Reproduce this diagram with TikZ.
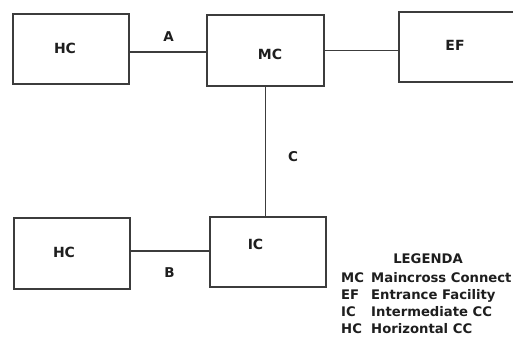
\documentclass[tikz,border=0pt]{standalone}
\usepackage{fontspec}
\setmainfont{DejaVu Sans}
\definecolor{LineGray}{RGB}{60, 60, 60}
\definecolor{TextDark}{RGB}{30, 30, 30}
\usetikzlibrary{positioning}

\begin{document}
\begin{tikzpicture}[
        x=1pt, y=-1pt,
        box/.style={rectangle, draw=LineGray, line width=1.6pt, minimum width=116pt, minimum height=70pt, inner sep=0pt},
        boxtext/.style={font=\fontsize{14}{14}\selectfont\bfseries, text=TextDark, inner sep=0pt},
        link/.style={draw=LineGray, line width=1.6pt},
        linklabel/.style={font=\fontsize{13.5}{13.5}\selectfont\bfseries, text=TextDark, inner sep=0pt},
        legend/.style={font=\fontsize{13.2}{13.2}\selectfont\bfseries, text=TextDark, inner sep=0pt, anchor=base west}
    ]
        \useasboundingbox (0,0) rectangle (513,337);

        % Boxes
        \node[box, label={[boxtext, name=hc1-text, xshift=-6pt, yshift=1pt]center:HC}] (hc1) at (71,49) {};
        \node[box, minimum width=117pt, minimum height=71pt, label={[boxtext, name=mc-text, xshift=4.5pt, yshift=-3.5pt]center:MC}] (mc) at (265.5,50.5) {};
        \node[box, label={[boxtext, name=ef-text, xshift=-2pt, yshift=1.5pt]center:EF}] (ef) at (457,47) {};
        \node[box, label={[boxtext, name=ic-text, xshift=-12.5pt, yshift=7.5pt]center:IC}] (ic) at (268,252) {};
        \node[box, minimum height=71pt, label={[boxtext, name=hc2-text, xshift=-8pt, yshift=1.5pt]center:HC}] (hc2) at (72,253.5) {};

        % Links
        \draw[link] ([yshift=-2.7pt]hc1.east) -- ([yshift=-2.7pt]hc1.east -| mc.west);
        \draw[link] (mc.east) -- (mc.east -| ef.west);
        \draw[link] (mc.south) -- (mc.south |- ic.north);
        \draw[link] ([yshift=2.5pt]hc2.east) -- ([yshift=2.5pt]hc2.east -| ic.west);

        % Link names
        \node[linklabel] (lab-a) at (168.5,37) {A};
        \node[linklabel] (lab-c) at (293,157) {C};
        \node[linklabel] (lab-b) at (169.5,273) {B};

        % Legend
        \node[legend, anchor=base] (legend-title) at (428,263) {LEGENDA};
        \node[legend] (key-mc) at (341,282) {MC};
        \node[legend] (txt-mc) at (371,282) {Maincross Connect};
        \node[legend] (key-ef) at (341,299.7) {EF};
        \node[legend] (txt-ef) at (371,299.7) {Entrance Facility};
        \node[legend] (key-ic) at (341,316.4) {IC};
        \node[legend] (txt-ic) at (371,316.4) {Intermediate CC};
        \node[legend] (key-hc) at (341,333.7) {HC};
        \node[legend] (txt-hc) at (371,333.7) {Horizontal CC};
    \end{tikzpicture}
\end{document}
